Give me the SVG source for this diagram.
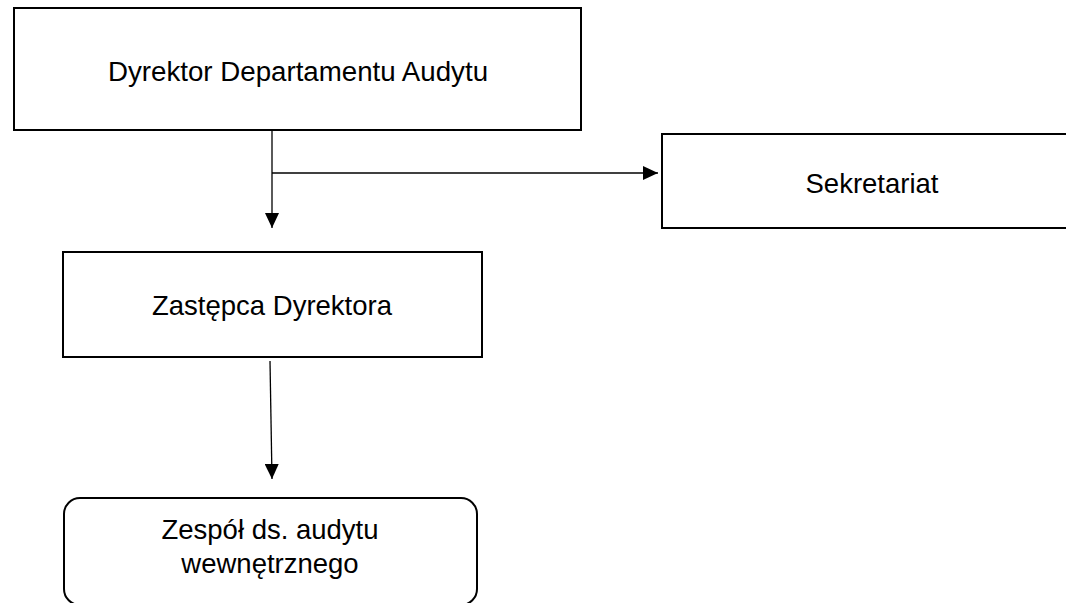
<svg xmlns="http://www.w3.org/2000/svg" width="1066" height="603" viewBox="0 0 1066 603">
<style>
.box{fill:#fff;stroke:#000;stroke-width:2}
.lbl{font-family:"Liberation Sans",Arial,sans-serif;fill:#000;text-anchor:middle;font-size:27.5px}
.con{fill:none;stroke:#000;stroke-width:1.3}
</style>
<defs>
<marker id="ah" markerWidth="15" markerHeight="14" viewBox="0 0 15 14" refX="15" refY="7" orient="auto" markerUnits="userSpaceOnUse">
<path d="M0,0 L15,7 L0,14 Z" fill="#000"/>
</marker>
</defs>
<rect width="1066" height="603" fill="#fff"/>
<g id="connectors">
<path class="con" d="M272,131 L272,228" marker-end="url(#ah)"/>
<path class="con" d="M272,173 L658,173" marker-end="url(#ah)"/>
<path class="con" d="M270,361 L272,479" marker-end="url(#ah)"/>
</g>
<g id="dyrektor">
<rect class="box" x="14" y="8" width="567" height="122"/>
<text class="lbl" x="298" y="81" style="font-size:27.7px">Dyrektor Departamentu Audytu</text>
</g>
<g id="sekretariat">
<rect class="box" x="662" y="134" width="410" height="94"/>
<text class="lbl" x="872" y="193">Sekretariat</text>
</g>
<g id="zastepca">
<rect class="box" x="63" y="252" width="419" height="105"/>
<text class="lbl" x="272" y="315">Zastępca Dyrektora</text>
</g>
<g id="zespol">
<rect class="box" x="64" y="498" width="413" height="107" rx="16" ry="16"/>
<text class="lbl" x="270" y="539">Zespół ds. audytu</text>
<text class="lbl" x="270" y="573">wewnętrznego</text>
</g>
</svg>
